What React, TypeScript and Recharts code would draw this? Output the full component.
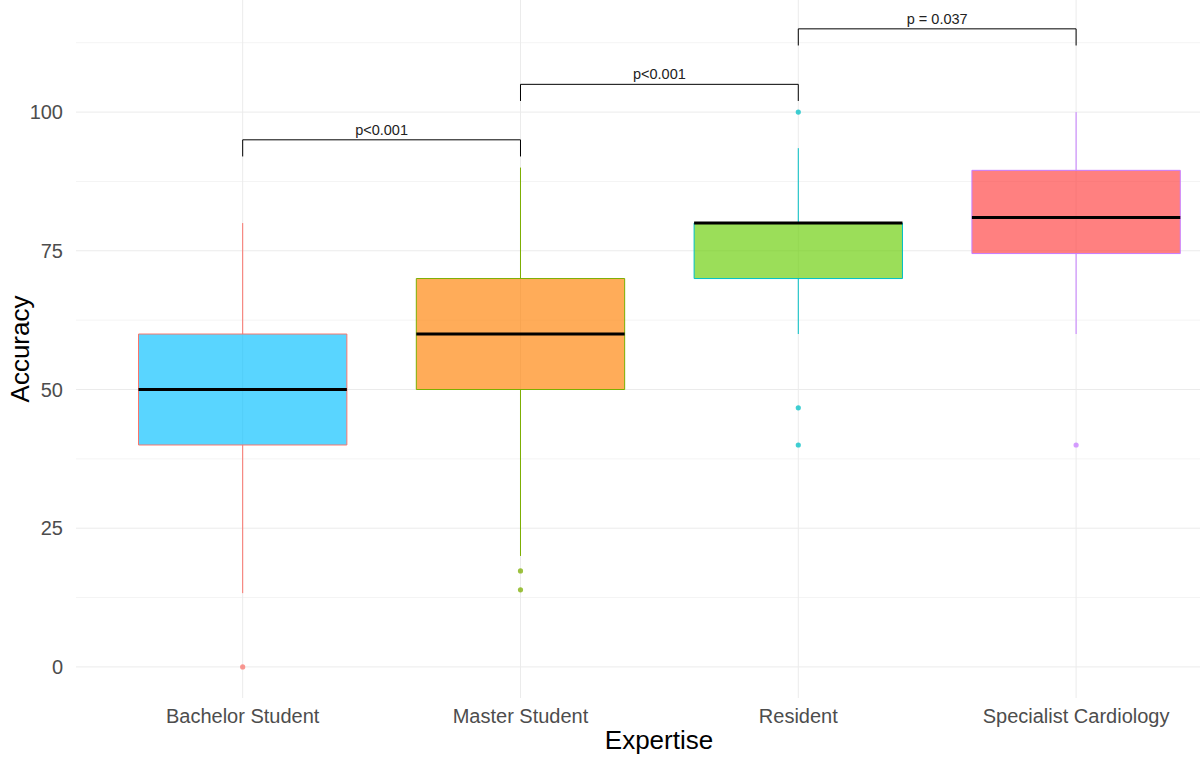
import React from "react";
import {
  CartesianGrid,
  ComposedChart,
  ReferenceArea,
  ReferenceLine,
  Scatter,
  XAxis,
  YAxis,
} from "recharts";

const categories = ["Bachelor Student", "Master Student", "Resident", "Specialist Cardiology"];
const lowerWhisker = [13.3, 20, 60, 60];
const q1 = [40, 50, 70, 74.5];
const medians = [50, 60, 80, 81];
const q3 = [60, 70, 80, 89.5];
const upperWhisker = [80, 90, 93.5, 100];
const outliers = [[0], [17.3, 13.9], [100, 46.7, 40], [40]];

const pLabels = ["p<0.001", "p<0.001", "p = 0.037"];
const bracketLevels = [95, 105, 115];
const bracketTip = 3;

const xTicks = [1, 2, 3, 4];
const yTicks = [0, 25, 50, 75, 100];
const minorTicks = [12.5, 37.5, 62.5, 87.5, 112.5];

const fills = ["#00BFFF", "#FF7F00", "#66CD00", "#FF3C3C"];
const strokes = ["#F8766D", "#7CAE00", "#00BFC4", "#C77CFF"];

const half = 0.375;
const font = "'Liberation Sans', Arial, sans-serif";

const YTitle = (props: any) => {
  const vb = props.viewBox;
  const cx = 20;
  const cy = vb.y + vb.height / 2;
  return (
    <text
      x={cx}
      y={cy}
      transform={`rotate(-90, ${cx}, ${cy})`}
      textAnchor="middle"
      dominantBaseline="central"
      fontSize={26}
      fill="#000"
      fontFamily={font}
    >
      Accuracy
    </text>
  );
};

export default function App() {
  return (
    <div
      style={{
        position: "absolute",
        left: 0,
        top: 0,
        width: 1200,
        height: 761,
        overflow: "hidden",
        background: "#fff",
        fontFamily: font,
      }}
    >
      <ComposedChart width={1200} height={761} margin={{ top: 0, right: 0, bottom: 0, left: 16 }}>
        <CartesianGrid vertical={false} horizontalValues={minorTicks} stroke="#F4F4F4" />
        <CartesianGrid horizontalValues={yTicks} verticalValues={xTicks} stroke="#EBEBEB" />
        <XAxis
          type="number"
          dataKey="x"
          domain={[0.4, 4.446]}
          allowDataOverflow
          ticks={xTicks}
          interval={0}
          tickFormatter={(v: number) => categories[v - 1]}
          axisLine={false}
          tickLine={false}
          tickMargin={5}
          height={63}
          tick={{ fill: "#4D4D4D", fontSize: 20 }}
          label={{ value: "Expertise", position: "insideBottom", offset: 12, dx: 21, fontSize: 26, fill: "#000" }}
        />
        <YAxis
          type="number"
          dataKey="y"
          domain={[-5.6, 120.2]}
          allowDataOverflow
          ticks={yTicks}
          axisLine={false}
          tickLine={false}
          tickMargin={7}
          width={60}
          tick={{ fill: "#4D4D4D", fontSize: 20 }}
          label={{ content: YTitle }}
        />
        {categories.map((c, i) => (
          <ReferenceLine
            key={`wu${c}`}
            segment={[
              { x: i + 1, y: q3[i] },
              { x: i + 1, y: upperWhisker[i] },
            ]}
            stroke={strokes[i]}
          />
        ))}
        {categories.map((c, i) => (
          <ReferenceLine
            key={`wl${c}`}
            segment={[
              { x: i + 1, y: q1[i] },
              { x: i + 1, y: lowerWhisker[i] },
            ]}
            stroke={strokes[i]}
          />
        ))}
        {categories.map((c, i) => (
          <ReferenceArea
            key={`b${c}`}
            x1={i + 1 - half}
            x2={i + 1 + half}
            y1={q1[i]}
            y2={q3[i]}
            fill={fills[i]}
            fillOpacity={0.65}
            stroke={strokes[i]}
            strokeOpacity={1}
            strokeWidth={1}
          />
        ))}
        {categories.map((c, i) => (
          <ReferenceLine
            key={`md${c}`}
            segment={[
              { x: i + 1 - half, y: medians[i] },
              { x: i + 1 + half, y: medians[i] },
            ]}
            stroke="#000"
            strokeWidth={3}
          />
        ))}
        {categories.map((c, i) => (
          <Scatter
            key={`o${c}`}
            data={outliers[i].map((y) => ({ x: i + 1, y }))}
            dataKey="y"
            isAnimationActive={false}
            fill={strokes[i]}
            shape={(p: any) => (
              <circle cx={p.cx} cy={p.cy} r={2.6} fill={strokes[i]} fillOpacity={0.75} />
            )}
          />
        ))}
        {pLabels.map((lab, k) => (
          <ReferenceLine
            key={`bh${k}`}
            segment={[
              { x: k + 1, y: bracketLevels[k] },
              { x: k + 2, y: bracketLevels[k] },
            ]}
            stroke="#000"
            label={{ value: lab, position: "top", offset: 5, fontSize: 14.5, fill: "#222" }}
          />
        ))}
        {pLabels.map((lab, k) => (
          <ReferenceLine
            key={`bl${k}`}
            segment={[
              { x: k + 1, y: bracketLevels[k] },
              { x: k + 1, y: bracketLevels[k] - bracketTip },
            ]}
            stroke="#000"
          />
        ))}
        {pLabels.map((lab, k) => (
          <ReferenceLine
            key={`br${k}`}
            segment={[
              { x: k + 2, y: bracketLevels[k] },
              { x: k + 2, y: bracketLevels[k] - bracketTip },
            ]}
            stroke="#000"
          />
        ))}
      </ComposedChart>
    </div>
  );
}
